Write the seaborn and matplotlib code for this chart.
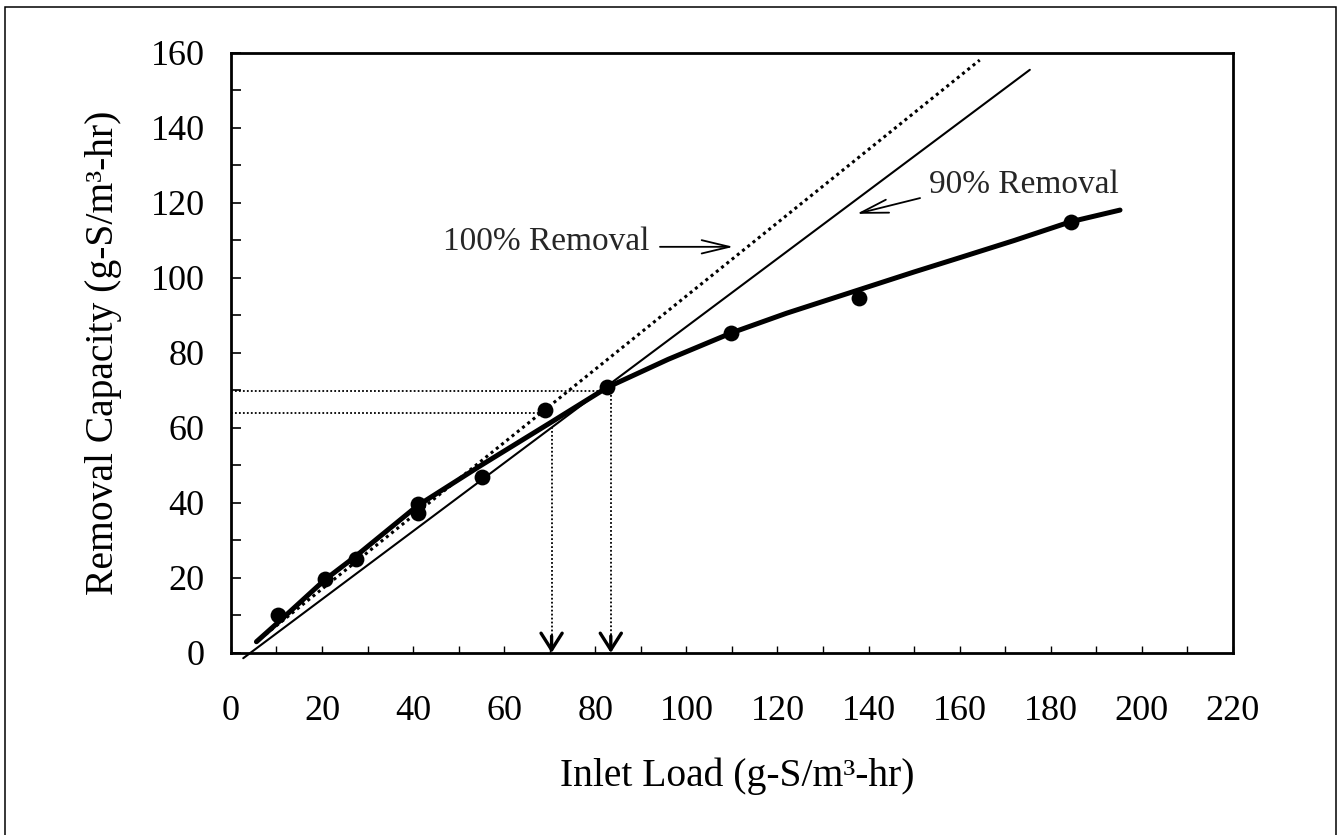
import matplotlib
matplotlib.use("Agg")
import matplotlib.pyplot as plt
import seaborn as sns
from matplotlib.patches import Rectangle
from matplotlib.ticker import MultipleLocator

# Measured removal capacity against inlet load (g-S/m3-hr)
inlet_load = [10.4, 20.6, 27.4, 41.1, 41.1, 55.2, 68.9, 82.6, 109.9, 137.9, 184.4]
removal_capacity = [10.0, 19.8, 25.0, 39.6, 37.3, 47.0, 64.8, 70.9, 85.4, 94.7, 115.0]

# Fitted trend through the measurements
fit_load = [5.6, 10.4, 20.6, 27.4, 41.0, 55.0, 70.0, 82.6, 96.0, 110.0, 122.0,
            136.0, 150.0, 160.0, 172.0, 184.4, 195.2]
fit_capacity = [3.0, 8.2, 19.5, 25.8, 39.3, 50.1, 61.3, 70.8, 78.3, 85.4, 90.6,
                96.1, 101.6, 105.4, 110.0, 115.0, 118.1]

# Reference removal lines
full_load = [5.3, 164.4]
full_capacity = [2.7, 158.1]
ninety_load = [2.7, 175.4]
ninety_capacity = [-1.4, 155.5]

# Read-off guides for the critical loads
guide_levels = [63.9, 69.9]
guide_ends = [67.8, 81.5]
critical_loads = [70.4, 83.4]
drop_tops = [60.3, 69.9]

x_ticks = list(range(0, 221, 20))
y_ticks = list(range(0, 161, 20))

sns.set_theme(style="ticks")
plt.rcParams["font.family"] = ["Liberation Serif", "DejaVu Serif"]

fig = plt.figure(figsize=(13.38, 8.35), dpi=100)
fig.patch.set_facecolor("white")
ax = fig.add_axes([0.1726, 0.218, 0.7489, 0.7186])
ax.set_facecolor("white")

dot_style = (0, (1, 1.2))

# reference lines
sns.lineplot(x=full_load, y=full_capacity, ax=ax, color="black", lw=2.2,
             linestyle=dot_style, sort=False, estimator=None)
sns.lineplot(x=ninety_load, y=ninety_capacity, ax=ax, color="black", lw=1.5,
             sort=False, estimator=None, clip_on=False)

# fitted curve and measurements
sns.lineplot(x=fit_load, y=fit_capacity, ax=ax, color="black", lw=3.6,
             sort=False, estimator=None, solid_capstyle="round",
             solid_joinstyle="round", zorder=4)
sns.scatterplot(x=inlet_load, y=removal_capacity, ax=ax, s=130, color="black",
                edgecolor="black", linewidth=0, zorder=5)

# horizontal guides from the y axis
for level, end in zip(guide_levels, guide_ends):
    ax.plot([0, end], [level, level], color="black", lw=1.3, linestyle=dot_style)

# vertical guides down to the x axis with arrowheads
for load, top in zip(critical_loads, drop_tops):
    ax.plot([load, load], [top, 2.5], color="black", lw=1.3, linestyle=dot_style)
    ax.annotate("", xy=(load, 0), xytext=(load, 4.5),
                arrowprops=dict(arrowstyle="->,head_length=0.6,head_width=0.38",
                                lw=2.4, color="black", mutation_scale=20,
                                shrinkA=0, shrinkB=0))

# annotations
ax.text(46.5, 107.5, "100% Removal", fontsize=24, ha="left", va="baseline")
ax.annotate("", xy=(110.3, 108.3), xytext=(94.2, 108.3),
            arrowprops=dict(arrowstyle="->,head_length=1.0,head_width=0.24",
                            lw=1.3, color="black", mutation_scale=20,
                            shrinkA=0, shrinkB=0))
ax.text(153.2, 122.7, "90% Removal", fontsize=24, ha="left", va="baseline")
ax.annotate("", xy=(137.4, 117.1), xytext=(151.3, 121.3),
            arrowprops=dict(arrowstyle="->,head_length=1.0,head_width=0.24",
                            lw=1.3, color="black", mutation_scale=20,
                            shrinkA=0, shrinkB=0))

# axes
ax.set_xlim(0, 220)
ax.set_ylim(0, 160)
ax.set_xticks(x_ticks)
ax.set_yticks(y_ticks)
ax.set_xticklabels([str(v) for v in x_ticks])
ax.set_yticklabels([str(v) for v in y_ticks])
ax.xaxis.set_minor_locator(MultipleLocator(10))
ax.yaxis.set_minor_locator(MultipleLocator(10))
ax.tick_params(axis="x", which="both", direction="in", length=5, width=1.0,
               pad=30, labelsize=26, colors="black")
ax.tick_params(axis="y", which="both", direction="in", length=7, width=1.2,
               pad=19, labelsize=26, colors="black")
for side in ["left", "right", "top", "bottom"]:
    ax.spines[side].set_visible(True)
    ax.spines[side].set_color("black")
    ax.spines[side].set_linewidth(2.0)

ax.set_xlabel("Inlet Load (g-S/m³-hr)", fontsize=28.5, color="black")
ax.set_ylabel("Removal Capacity (g-S/m³-hr)", fontsize=28.5, color="black")
ax.xaxis.set_label_coords(0.505, -0.175)
ax.yaxis.set_label_coords(-0.109, 0.5)

# frame around the whole figure
fig.patches.append(Rectangle((5 / 1338, -0.01), 1331 / 1338, 1.0016,
                             transform=fig.transFigure, fill=False,
                             edgecolor="black", lw=1.1))

fig.savefig("out.png", dpi=100, facecolor="white")
